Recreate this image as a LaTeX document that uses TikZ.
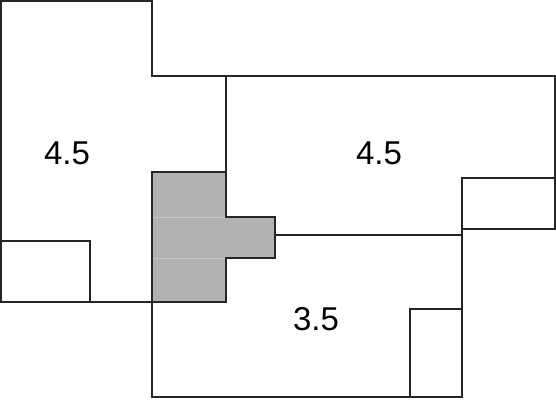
\documentclass[tikz,border=0pt]{standalone}
\usepackage{fontspec}
\setmainfont{Liberation Sans}
\begin{document}
\begin{tikzpicture}[x=1pt,y=-1pt,
  wall/.style={line width=1.5pt,draw=black!85},
  area/.style={font=\fontsize{33}{36}\selectfont}]
  \useasboundingbox (0,0) rectangle (556,400);

  % Outer outline of the two upper rooms
  \draw[wall] (1,302) -- (1,1) -- (152,1) -- (152,76) -- (555,76) -- (555,229);
  \draw[wall] (226,76) -- (226,172);
  \draw[wall] (1,302) -- (152,302);

  % Small boxes
  \draw[wall] (1,241) rectangle (90,302);
  \draw[wall] (462,178) rectangle (555,229);
  \draw[wall] (410,309) rectangle (462,397);

  % Lower room
  \draw[wall] (275,235) -- (462,235);
  \draw[wall] (462,229) -- (462,397) -- (152,397) -- (152,302);

  % Shaded block
  \fill[black!30] (152,172) -- (226,172) -- (226,217) -- (275,217) -- (275,258)
    -- (226,258) -- (226,302) -- (152,302) -- cycle;
  \draw[black!22,line width=0.8pt] (153,217) -- (226,217);
  \draw[black!22,line width=0.8pt] (153,258) -- (226,258);
  \draw[wall,line width=2pt] (152,172) -- (226,172) -- (226,217) -- (275,217) -- (275,258)
    -- (226,258) -- (226,302) -- (152,302) -- cycle;

  % Room sizes
  \node[area] (leftroom) at (67,153) {4.5};
  \node[area] (rightroom) at (379,153) {4.5};
  \node[area] (lowroom) at (316,319) {3.5};
\end{tikzpicture}
\end{document}
